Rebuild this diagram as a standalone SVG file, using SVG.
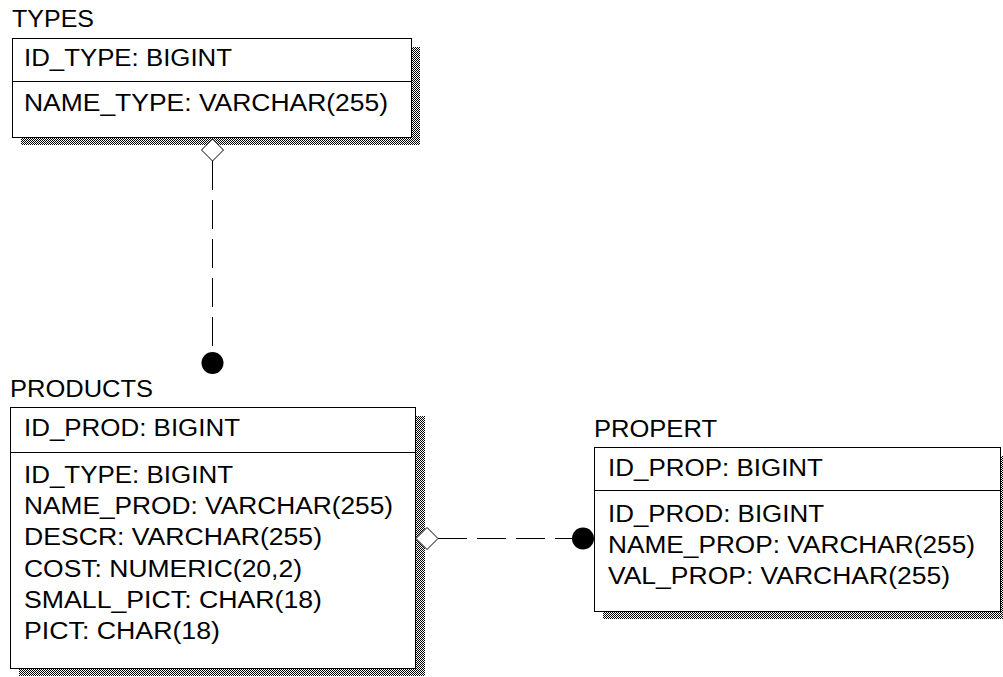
<svg xmlns="http://www.w3.org/2000/svg" width="1003" height="677" viewBox="0 0 1003 677">
  <style>
    .t { font-family: "Liberation Sans", Arial, sans-serif; font-size: 23px; fill: #000; }
    .box { fill: #fff; stroke: #000; stroke-width: 1; }
    .div { stroke: #000; stroke-width: 1; }
    .shadow { fill: url(#dither); }
    .conn { fill: none; stroke: #000; stroke-width: 1; stroke-dasharray: 29 10; }
  </style>
  <defs>
    <pattern id="dither" width="2" height="2" patternUnits="userSpaceOnUse">
      <rect width="2" height="2" fill="#ffffff"/>
      <rect width="1" height="1" fill="#000000"/>
      <rect x="1" y="1" width="1" height="1" fill="#000000"/>
    </pattern>
    <marker id="diamond" markerUnits="userSpaceOnUse" markerWidth="24" markerHeight="24" refX="0" refY="0" orient="auto" overflow="visible">
      <path d="M0,0 L-11,-11 L-22,0 L-11,11 Z" fill="#fff" stroke="#000" stroke-width="1" stroke-dasharray="none"/>
    </marker>
    <marker id="dot" markerUnits="userSpaceOnUse" markerWidth="24" markerHeight="24" refX="0" refY="0" orient="auto" overflow="visible">
      <circle cx="11" cy="0" r="11" fill="#000" stroke="none"/>
    </marker>
  </defs>
  <rect width="1003" height="677" fill="#fff"/>

  <g id="types">
    <text class="t" x="12" y="27" textLength="82" lengthAdjust="spacingAndGlyphs">TYPES</text>
    <rect class="shadow" x="21" y="47" width="399" height="98"/>
    <rect class="box" x="12.5" y="38.5" width="399" height="99"/>
    <line class="div" x1="12.5" y1="81.5" x2="411.5" y2="81.5"/>
    <text class="t" x="24" y="66" textLength="208" lengthAdjust="spacingAndGlyphs">ID_TYPE: BIGINT</text>
    <text class="t" x="24" y="111" textLength="364" lengthAdjust="spacingAndGlyphs">NAME_TYPE: VARCHAR(255)</text>
  </g>

  <g id="products">
    <text class="t" x="10" y="397" textLength="143" lengthAdjust="spacingAndGlyphs">PRODUCTS</text>
    <rect class="shadow" x="19" y="416" width="406" height="260"/>
    <rect class="box" x="10.5" y="407.5" width="405" height="261"/>
    <line class="div" x1="10.5" y1="452.5" x2="415.5" y2="452.5"/>
    <text class="t" x="24" y="436" textLength="216" lengthAdjust="spacingAndGlyphs">ID_PROD: BIGINT</text>
    <text class="t" x="24" y="483" textLength="209" lengthAdjust="spacingAndGlyphs">ID_TYPE: BIGINT</text>
    <text class="t" x="24" y="514" textLength="369" lengthAdjust="spacingAndGlyphs">NAME_PROD: VARCHAR(255)</text>
    <text class="t" x="24" y="545" textLength="298" lengthAdjust="spacingAndGlyphs">DESCR: VARCHAR(255)</text>
    <text class="t" x="24" y="577" textLength="278" lengthAdjust="spacingAndGlyphs">COST: NUMERIC(20,2)</text>
    <text class="t" x="24" y="608" textLength="298" lengthAdjust="spacingAndGlyphs">SMALL_PICT: CHAR(18)</text>
    <text class="t" x="24" y="639" textLength="196" lengthAdjust="spacingAndGlyphs">PICT: CHAR(18)</text>
  </g>

  <g id="propert">
    <text class="t" x="594" y="437" textLength="123" lengthAdjust="spacingAndGlyphs">PROPERT</text>
    <rect class="shadow" x="603" y="456" width="406" height="163"/>
    <rect class="box" x="594.5" y="447.5" width="406" height="164"/>
    <line class="div" x1="594.5" y1="490.5" x2="1000.5" y2="490.5"/>
    <text class="t" x="608" y="476" textLength="215" lengthAdjust="spacingAndGlyphs">ID_PROP: BIGINT</text>
    <text class="t" x="608" y="522" textLength="216" lengthAdjust="spacingAndGlyphs">ID_PROD: BIGINT</text>
    <text class="t" x="608" y="553" textLength="367" lengthAdjust="spacingAndGlyphs">NAME_PROP: VARCHAR(255)</text>
    <text class="t" x="608" y="584" textLength="342" lengthAdjust="spacingAndGlyphs">VAL_PROP: VARCHAR(255)</text>
  </g>

  <g id="connectors">
    <path class="conn" d="M212.5,161 L212.5,352" marker-start="url(#diamond)" marker-end="url(#dot)"/>
    <path class="conn" d="M438,538.5 L572,538.5" marker-start="url(#diamond)" marker-end="url(#dot)"/>
  </g>
</svg>
